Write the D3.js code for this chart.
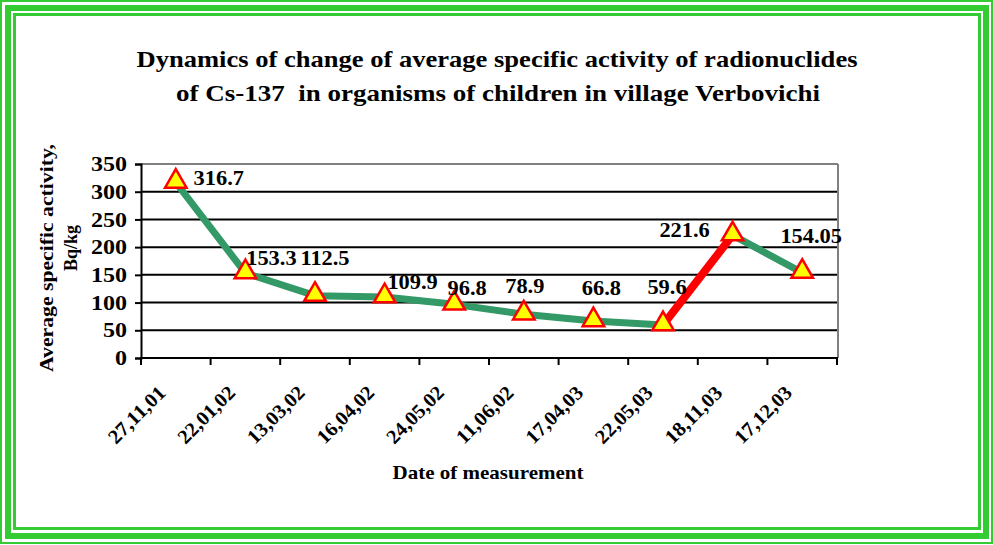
<!DOCTYPE html>
<html>
<head>
<meta charset="utf-8">
<script src="https://cdnjs.cloudflare.com/ajax/libs/d3/7.8.5/d3.min.js"></script>
<style>
  body { margin: 0; background: #fff; }
</style>
</head>
<body>
<div id="chart"></div>
<script>
// data
var dates = ["27,11,01", "22,01,02", "13,03,02", "16,04,02", "24,05,02",
             "11,06,02", "17,04,03", "22,05,03", "18,11,03", "17,12,03"];
var values = [316.7, 153.3, 112.5, 109.9, 96.8, 78.9, 66.8, 59.6, 221.6, 154.05];
var valueLabels = ["316.7", "153.3", "112.5", "109.9", "96.8", "78.9", "66.8", "59.6", "221.6", "154.05"];
var yTicks = [0, 50, 100, 150, 200, 250, 300, 350];
// label placement relative to its point (manually dragged in the original)
var labelDx = [43, 26, 10, 28, 13, 1, 8, 4, -48, 9];
var labelDy = [-4, -15, -38, -15, -16, -28, -33, -38, -5, -37];
var redFrom = 7; // segment from 22,05,03 to 18,11,03 drawn red

var FONT = "'Liberation Serif', 'Times New Roman', serif";
function bold(sel, size) {
  return sel.style("font-family", FONT).style("font-weight", "bold")
    .style("font-size", size + "px").attr("fill", "#000");
}

var W = 993, H = 545;
var svg = d3.select("#chart").append("svg")
  .attr("width", W).attr("height", H);

svg.append("rect").attr("width", W).attr("height", H).attr("fill", "#fff");

// triple green frame
var green = "#33cc33";
svg.append("rect").attr("x", 1).attr("y", 1).attr("width", 991).attr("height", 542)
  .attr("fill", "none").attr("stroke", green).attr("stroke-width", 2);
svg.append("rect").attr("x", 8).attr("y", 8).attr("width", 978).attr("height", 528)
  .attr("fill", "none").attr("stroke", green).attr("stroke-width", 6);
svg.append("rect").attr("x", 14.5).attr("y", 14.5).attr("width", 965).attr("height", 514)
  .attr("fill", "none").attr("stroke", green).attr("stroke-width", 3);

// title
bold(svg.append("text"), 23).attr("x", 497).attr("y", 67).attr("text-anchor", "middle")
  .attr("textLength", 721).attr("lengthAdjust", "spacingAndGlyphs")
  .text("Dynamics of change of average specific activity of radionuclides");
bold(svg.append("text"), 23).attr("x", 498).attr("y", 101).attr("text-anchor", "middle")
  .style("white-space", "pre")
  .attr("textLength", 644).attr("lengthAdjust", "spacingAndGlyphs")
  .text("of Cs-137  in organisms of children in village Verbovichi");

var x = d3.scaleBand().domain(dates).range([141, 837]);
var y = d3.scaleLinear().domain([0, 350]).range([358, 164]);
var cx = function(i) { return x(dates[i]) + x.bandwidth() / 2; };

// grid
svg.append("g").selectAll("line")
  .data(yTicks.filter(function(d) { return d > 0 && d < 350; }))
  .enter().append("line")
  .attr("x1", 141).attr("x2", 837)
  .attr("y1", function(d) { return y(d); }).attr("y2", function(d) { return y(d); })
  .attr("stroke", "#000").attr("stroke-width", 2);

// plot area frame (top, right)
svg.append("line").attr("x1", 141).attr("x2", 838).attr("y1", y(350)).attr("y2", y(350))
  .attr("stroke", "#808080").attr("stroke-width", 2);
svg.append("line").attr("x1", 838).attr("x2", 838).attr("y1", y(350)).attr("y2", y(0))
  .attr("stroke", "#808080").attr("stroke-width", 2);

// y axis
var yAxis = svg.append("g").attr("transform", "translate(141,0)")
  .call(d3.axisLeft(y).tickValues(yTicks).tickSize(6).tickPadding(6).tickFormat(d3.format("d")));
yAxis.select(".domain").attr("stroke", "#000").attr("stroke-width", 2);
yAxis.selectAll(".tick line").attr("stroke", "#000").attr("stroke-width", 2);
bold(yAxis.selectAll(".tick text"), 20)
  .attr("dy", "0.33em")
  .attr("transform", "scale(1.2,1)").attr("x", -14 / 1.2);

// x axis
svg.append("line").attr("x1", 140).attr("x2", 838).attr("y1", y(0)).attr("y2", y(0))
  .attr("stroke", "#000").attr("stroke-width", 2);
var bounds = d3.range(dates.length + 1);
svg.append("g").selectAll("line").data(bounds).enter().append("line")
  .attr("x1", function(i) { return i < dates.length ? x(dates[i]) : x.range()[1]; })
  .attr("x2", function(i) { return i < dates.length ? x(dates[i]) : x.range()[1]; })
  .attr("y1", y(0)).attr("y2", y(0) + 7)
  .attr("stroke", "#000").attr("stroke-width", 2);

bold(svg.append("g").selectAll("text").data(dates).enter().append("text"), 20)
  .attr("text-anchor", "end")
  .attr("textLength", 72).attr("lengthAdjust", "spacingAndGlyphs")
  .attr("transform", function(d, i) { return "translate(" + (cx(i) - 9) + ",394) rotate(-45)"; })
  .text(function(d) { return d; });

// axis titles
bold(svg.append("text"), 19).attr("x", 488).attr("y", 479).attr("text-anchor", "middle")
  .attr("textLength", 191).attr("lengthAdjust", "spacingAndGlyphs")
  .text("Date of measurement");
var yt = svg.append("g").attr("transform", "translate(0,258) rotate(-90)");
bold(yt.append("text"), 19).attr("x", 0).attr("y", 53).attr("text-anchor", "middle")
  .attr("textLength", 228).attr("lengthAdjust", "spacingAndGlyphs")
  .text("Average specific activity,");
bold(yt.append("text"), 18).attr("x", 10).attr("y", 77).attr("text-anchor", "middle")
  .text("Bq/kg");

// line
var pts = values.map(function(v, i) { return [cx(i), y(v)]; });
var line = d3.line();
svg.append("path").attr("d", line(pts.slice(0, redFrom + 1)))
  .attr("fill", "none").attr("stroke", "#339966").attr("stroke-width", 7)
  .attr("stroke-linejoin", "round");
svg.append("path").attr("d", line(pts.slice(redFrom + 1)))
  .attr("fill", "none").attr("stroke", "#339966").attr("stroke-width", 7)
  .attr("stroke-linejoin", "round");
svg.append("path").attr("d", line(pts.slice(redFrom, redFrom + 2)))
  .attr("fill", "none").attr("stroke", "#ff0000").attr("stroke-width", 8);

// markers
svg.append("g").selectAll("path").data(values).enter().append("path")
  .attr("d", d3.symbol().type(d3.symbolTriangle).size(200))
  .attr("transform", function(d, i) { return "translate(" + cx(i) + "," + (y(d) - 1) + ")"; })
  .attr("fill", "#ffff00").attr("stroke", "#ff0000").attr("stroke-width", 2.5);

// data labels
bold(svg.append("g").selectAll("text").data(values).enter().append("text"), 20)
  .attr("text-anchor", "middle")
  .attr("x", function(d, i) { return cx(i) + labelDx[i]; })
  .attr("y", function(d, i) { return y(d) + labelDy[i] + 7; })
  .attr("transform", function(d, i) {
    var px = cx(i) + labelDx[i];
    return "translate(" + px + ",0) scale(1.12,1) translate(" + (-px) + ",0)";
  })
  .text(function(d, i) { return valueLabels[i]; });
</script>
</body>
</html>
